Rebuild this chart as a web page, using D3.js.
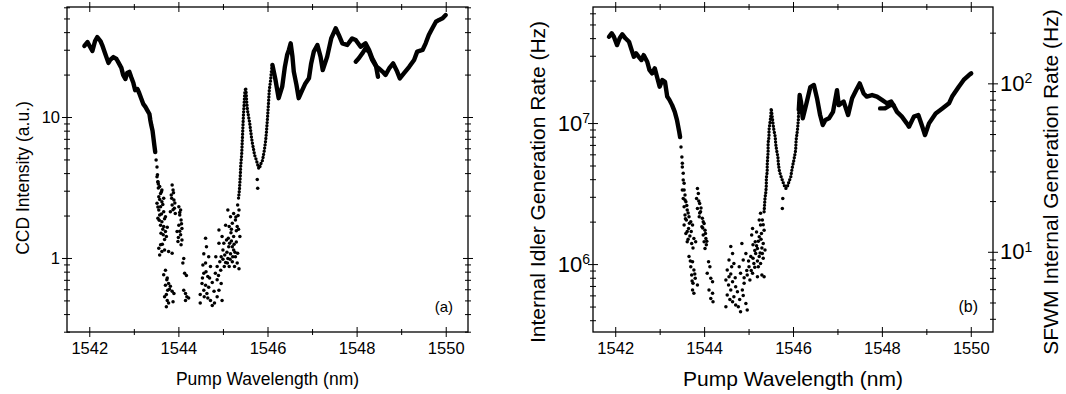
<!DOCTYPE html>
<html>
<head>
<meta charset="utf-8">
<script src="https://cdn.jsdelivr.net/npm/d3@7"></script>
<style>
  body { margin: 0; background: #fff; }
  svg { display: block; }
</style>
</head>
<body>
<svg id="chart" width="1066" height="394"></svg>
<script>
// ---- data: [wavelength (nm), value] ----
const xTicks = [1542, 1544, 1546, 1548, 1550];
const xMinorTicks = [1543, 1545, 1547, 1549];
const aYTicks = [1, 10];
const bYTicks = [1e6, 1e7];
const bY2Ticks = [10, 100];

// (a) CCD intensity
const aLineLeft = [[1541.89,31.9],[1541.96,34.0],[1542.02,31.4],[1542.07,29.4],[1542.13,34.6],[1542.18,36.9],[1542.25,34.6],[1542.29,32.4],[1542.36,28.0],[1542.43,24.2],[1542.47,25.4],[1542.54,26.6],[1542.61,25.8],[1542.65,24.5],[1542.72,22.3],[1542.76,19.9],[1542.81,18.6],[1542.85,20.5],[1542.90,20.9],[1542.94,19.2],[1542.99,17.4],[1543.03,15.5],[1543.08,15.8],[1543.12,14.8],[1543.17,13.4],[1543.21,12.4],[1543.26,11.8],[1543.30,11.2],[1543.35,10.5],[1543.37,9.5],[1543.39,8.8],[1543.42,8.0],[1543.44,7.1],[1543.46,6.3],[1543.48,5.65]];
const aSpike = [[1545.35,2.66],[1545.37,3.04],[1545.39,3.88],[1545.40,4.57],[1545.42,5.38],[1545.43,6.33],[1545.44,7.45],[1545.45,8.78],[1545.46,10.3],[1545.47,11.6],[1545.48,13.2],[1545.49,14.8],[1545.51,16.1],[1545.52,15.0],[1545.53,13.2],[1545.55,11.2],[1545.57,10.3],[1545.60,9.07],[1545.62,8.09],[1545.64,7.21],[1545.66,6.54],[1545.69,5.83],[1545.71,5.38],[1545.75,4.95],[1545.80,4.35],[1545.82,4.3],[1545.84,4.57],[1545.87,4.80],[1545.89,4.95],[1545.91,5.38],[1545.93,5.83],[1545.96,6.87],[1545.98,8.09],[1546.00,9.84],[1546.02,12.2],[1546.04,15.5],[1546.07,18.3],[1546.09,21.5],[1546.11,23.4]];
const aLineRight = [[1546.11,23.4],[1546.18,18.3],[1546.25,13.6],[1546.33,16.4],[1546.39,22.7],[1546.44,27.5],[1546.48,29.9],[1546.52,33.3],[1546.56,26.8],[1546.59,21.0],[1546.65,16.9],[1546.70,13.6],[1546.78,15.5],[1546.85,17.3],[1546.93,18.8],[1546.98,24.0],[1547.04,29.1],[1547.12,32.4],[1547.19,26.8],[1547.24,21.5],[1547.34,26.8],[1547.43,36.1],[1547.53,42.6],[1547.60,38.2],[1547.68,33.3],[1547.79,32.4],[1547.90,36.1],[1547.98,35.2],[1548.09,31.5],[1548.20,33.3],[1548.28,29.9],[1548.35,26.1],[1548.43,23.4],[1548.48,19.3]];
const aLineRight2 = [[1547.98,24.7],[1548.05,26.1],[1548.13,28.3],[1548.20,30.7],[1548.28,29.0],[1548.35,25.4],[1548.43,23.0],[1548.50,22.1],[1548.58,21.0],[1548.65,19.9],[1548.73,22.1],[1548.82,24.0],[1548.91,21.0],[1548.97,18.8],[1549.06,20.4],[1549.18,22.7],[1549.29,25.4],[1549.36,29.1],[1549.48,29.9],[1549.55,33.3],[1549.62,38.2],[1549.70,42.6],[1549.78,47.4],[1549.85,48.8],[1549.93,50.1],[1550.00,52.9]];
const aScatter = [
  [1543.50,4.95],[1543.52,4.42],[1543.53,3.9],[1543.54,3.46],[1543.55,3.13],
  [1543.52,3.77],[1543.54,3.48],[1543.58,3.21],[1543.63,3.04],[1543.60,2.87],[1543.56,2.72],[1543.67,2.65],[1543.63,2.51],[1543.52,2.44],[1543.60,2.31],[1543.56,2.19],[1543.67,2.13],[1543.58,2.02],[1543.71,1.96],[1543.54,1.91],[1543.63,1.81],[1543.60,1.71],[1543.67,1.67],[1543.75,1.65],[1543.71,1.54],[1543.66,1.46],[1543.73,1.42],[1543.60,1.24],[1543.56,1.17],[1543.63,1.11],[1543.58,1.05],[1543.69,1.14],[1543.78,1.11],[1543.86,1.08],[1543.71,0.82],[1543.67,0.76],[1543.75,0.72],[1543.78,0.66],[1543.71,0.64],[1543.82,0.63],[1543.76,0.59],[1543.86,0.58],[1543.73,0.55],[1543.90,0.56],[1543.75,0.50],[1543.78,0.48],[1543.73,0.45],[1543.88,0.49],
  [1543.55,3.35],[1543.62,2.95],[1543.58,2.6],[1543.65,2.4],[1543.54,2.3],[1543.62,2.05],[1543.69,1.9],[1543.57,1.85],[1543.65,1.6],[1543.61,1.5],[1543.69,1.35],[1543.64,1.25],[1543.74,0.70],[1543.80,0.60],[1543.69,0.53],
  [1543.86,3.29],[1543.88,3.04],[1543.84,2.80],[1543.90,2.58],[1543.86,2.38],[1543.91,2.25],[1543.82,2.13],[1543.93,2.07],[1544.01,2.31],[1544.05,2.19],[1544.03,2.02],[1544.06,1.86],[1544.01,1.71],[1544.08,1.62],[1543.97,1.54],[1544.05,1.46],[1544.08,1.34],[1543.99,1.31],[1544.06,1.24],
  [1543.89,2.9],[1543.85,2.65],[1543.92,2.45],[1543.88,2.2],[1544.03,2.1],[1544.07,1.75],[1544.03,1.55],[1544.00,1.4],
  [1544.12,0.99],[1544.10,0.92],[1544.14,0.78],[1544.18,0.75],[1544.12,0.59],[1544.16,0.56],[1544.19,0.53],[1544.23,0.52],[1544.16,0.50],
  [1544.61,1.38],[1544.63,1.20],[1544.57,1.07],[1544.68,1.02],[1544.61,0.92],[1544.72,0.87],[1544.55,0.89],[1544.57,0.78],[1544.66,0.74],[1544.53,0.66],[1544.61,0.64],[1544.57,0.59],[1544.68,0.62],[1544.76,0.67],[1544.49,0.55],[1544.58,0.53],[1544.64,0.56],[1544.72,0.50],[1544.76,0.46],[1544.49,0.48],[1544.81,0.48],[1544.87,0.53],[1544.91,0.59],[1544.98,0.50],[1544.87,0.70],[1544.96,0.66],[1544.83,0.78],[1544.87,0.87],[1544.93,0.94],[1544.96,1.02],[1544.84,1.02],[1545.00,1.14],[1545.03,0.87],[1545.06,0.93],[1545.11,0.99],[1545.02,1.27],[1545.08,1.34],[1545.12,1.38],[1545.15,1.27],[1545.21,1.20],[1545.24,1.14],[1545.17,1.07],[1545.28,1.02],[1545.21,0.94],[1545.26,0.87],[1545.32,0.92],[1545.36,0.84],[1545.14,0.87],[1544.91,1.58],[1545.11,2.19],[1545.17,1.96],[1545.21,1.76],[1545.24,2.07],[1545.28,1.86],[1545.32,1.67],[1545.36,2.19],[1545.33,2.38],[1545.30,1.56],[1545.38,1.42],[1545.24,1.42],[1545.18,1.51],[1545.14,1.67],[1545.06,1.71],[1544.98,1.42],[1544.91,1.27],
  [1545.04,1.05],[1545.09,1.10],[1545.13,1.20],[1545.19,1.32],[1545.25,1.25],[1545.30,1.30],[1545.27,1.10],[1545.22,1.02],[1545.16,0.98],[1545.10,0.92],[1545.00,0.98],[1544.95,0.82],[1544.90,0.75],[1545.33,1.08],[1545.35,1.60],[1545.29,1.95],[1545.34,2.00],[1545.19,1.60],[1544.70,0.72],[1544.62,0.80],[1544.54,0.72],[1544.80,0.58],[1544.66,0.52],
  [1545.77,3.61],[1545.78,3.12]
];

// (b) internal idler generation rate (Hz)
const bLineLeft = [[1541.86,4.09e7],[1541.92,4.33e7],[1541.97,4.09e7],[1542.04,3.57e7],[1542.10,3.99e7],[1542.16,4.26e7],[1542.23,3.99e7],[1542.31,3.77e7],[1542.37,3.29e7],[1542.42,2.95e7],[1542.47,3.12e7],[1542.53,2.95e7],[1542.59,2.80e7],[1542.64,3.03e7],[1542.72,2.72e7],[1542.77,2.38e7],[1542.83,2.25e7],[1542.89,2.44e7],[1542.94,2.13e7],[1543.00,1.81e7],[1543.06,2.02e7],[1543.12,1.96e7],[1543.17,1.54e7],[1543.22,1.46e7],[1543.28,1.34e7],[1543.34,1.20e7],[1543.39,1.05e7],[1543.44,8.67e6],[1543.46,7.96e6]];
const bSpike = [[1545.35,2.35e6],[1545.36,2.62e6],[1545.37,2.94e6],[1545.39,3.26e6],[1545.40,3.63e6],[1545.40,4.07e6],[1545.42,4.52e6],[1545.42,5.04e6],[1545.43,5.65e6],[1545.44,6.26e6],[1545.44,7.22e6],[1545.46,8.00e6],[1545.46,8.91e6],[1545.48,1.0e7],[1545.50,1.11e7],[1545.51,1.27e7],[1545.55,9.95e6],[1545.57,8.91e6],[1545.60,8.00e6],[1545.61,7.18e6],[1545.63,6.44e6],[1545.66,5.77e6],[1545.67,5.18e6],[1545.69,4.64e6],[1545.72,4.28e6],[1545.76,3.94e6],[1545.80,3.63e6],[1545.84,3.44e6],[1545.87,3.53e6],[1545.91,3.84e6],[1545.95,4.16e6],[1545.98,4.77e6],[1546.02,5.47e6],[1546.06,6.44e6],[1546.07,7.57e6],[1546.10,8.91e6],[1546.12,1.05e7],[1546.13,1.24e7]];
const bLineRight = [[1546.13,1.24e7],[1546.15,1.58e7],[1546.18,1.41e7],[1546.22,1.08e7],[1546.31,1.41e7],[1546.39,1.80e7],[1546.47,1.86e7],[1546.54,1.50e7],[1546.61,1.14e7],[1546.67,9.68e6],[1546.73,1.05e7],[1546.81,1.08e7],[1546.90,1.20e7],[1546.99,1.71e7],[1547.03,1.34e7],[1547.14,1.42e7],[1547.24,1.14e7],[1547.33,1.50e7],[1547.42,1.71e7],[1547.50,1.91e7],[1547.59,1.62e7],[1547.66,1.54e7],[1547.78,1.58e7],[1547.89,1.54e7],[1548.00,1.46e7],[1548.11,1.38e7],[1548.21,1.42e7],[1548.26,1.34e7],[1548.34,1.20e7],[1548.45,1.11e7],[1548.56,9.95e6],[1548.61,9.42e6],[1548.72,1.11e7],[1548.82,1.14e7],[1548.91,9.42e6],[1548.97,8.22e6],[1549.06,9.95e6],[1549.21,1.17e7],[1549.36,1.27e7],[1549.51,1.38e7],[1549.58,1.54e7],[1549.73,1.81e7],[1549.84,2.02e7],[1549.96,2.19e7],[1550.01,2.25e7]];
const bLineRight2 = [[1547.96,1.27e7],[1548.07,1.27e7],[1548.19,1.34e7],[1548.26,1.34e7]];
const bScatter = [
  [1543.48,6.76e6],[1543.50,5.74e6],[1543.51,4.88e6],[1543.53,3.94e6],[1543.55,3.35e6],[1543.51,5.18e6],[1543.53,4.40e6],[1543.55,3.74e6],[1543.51,3.35e6],
  [1543.57,3.09e6],[1543.53,2.92e6],[1543.59,2.77e6],[1543.55,2.55e6],[1543.62,2.42e6],[1543.57,2.23e6],[1543.66,2.17e6],[1543.60,2.05e6],[1543.70,2.00e6],[1543.55,1.89e6],[1543.65,1.79e6],[1543.74,1.89e6],[1543.59,1.65e6],[1543.68,1.58e6],[1543.77,1.52e6],[1543.62,1.44e6],[1543.72,1.40e6],[1543.81,1.44e6],[1543.66,1.13e6],[1543.74,1.04e6],[1543.70,9.58e5],[1543.77,9.08e5],[1543.72,8.36e5],[1543.80,7.92e5],[1543.75,7.30e5],[1543.85,7.10e5],[1543.74,6.55e5],[1543.77,6.20e5],
  [1543.57,2.85e6],[1543.61,2.6e6],[1543.64,2.3e6],[1543.58,2.1e6],[1543.67,1.95e6],[1543.62,1.7e6],[1543.71,1.7e6],[1543.64,1.5e6],[1543.75,1.3e6],[1543.69,1.05e6],[1543.79,8.5e5],[1543.73,7.6e5],
  [1543.85,3.44e6],[1543.87,3.17e6],[1543.83,2.92e6],[1543.90,2.69e6],[1543.85,2.48e6],[1543.92,2.35e6],[1543.89,2.17e6],[1543.96,2.11e6],[1544.00,1.94e6],[1543.95,1.84e6],[1544.02,1.74e6],[1543.98,1.61e6],[1544.04,1.52e6],[1544.00,1.44e6],[1544.05,1.37e6],[1544.02,1.29e6],
  [1543.88,2.8e6],[1543.93,2.5e6],[1543.90,2.3e6],[1543.98,2.0e6],[1543.97,1.8e6],[1544.03,1.65e6],[1544.06,1.45e6],
  [1544.10,1.04e6],[1544.13,9.58e5],[1544.07,8.60e5],[1544.15,7.92e5],[1544.19,7.50e5],[1544.11,6.55e5],[1544.19,6.20e5],[1544.15,5.71e5],[1544.20,5.41e5],
  [1544.60,1.33e6],[1544.64,1.19e6],[1544.56,1.07e6],[1544.67,1.01e6],[1544.62,9.58e5],[1544.52,9.08e5],[1544.56,8.13e5],[1544.49,7.71e5],[1544.64,7.50e5],[1544.55,7.10e5],[1544.71,6.91e5],[1544.60,6.55e5],[1544.52,6.03e5],[1544.67,5.87e5],[1544.75,6.37e5],[1544.49,4.99e5],[1544.64,5.41e5],[1544.71,5.12e5],[1544.82,4.59e5],[1544.77,4.99e5],[1544.94,5.26e5],[1544.97,4.72e5],[1544.86,6.55e5],[1544.90,7.30e5],[1544.82,8.60e5],[1544.79,9.58e5],[1544.88,1.07e6],[1544.85,1.40e6],[1544.94,1.19e6],[1545.01,9.58e5],[1545.05,1.13e6],[1544.97,8.36e5],[1545.03,7.71e5],[1545.09,8.60e5],[1545.12,1.01e6],[1545.16,1.19e6],[1545.10,1.37e6],[1545.07,1.61e6],[1545.09,1.79e6],[1545.15,1.44e6],[1545.20,1.29e6],[1545.24,1.13e6],[1545.27,1.01e6],[1545.31,1.19e6],[1545.22,9.58e5],[1545.35,8.13e5],[1545.30,8.36e5],[1545.20,8.13e5],[1545.24,1.56e6],[1545.27,1.89e6],[1545.31,2.05e6],[1545.35,1.74e6],[1545.33,1.40e6],[1545.37,1.26e6],[1545.27,2.29e6],[1545.24,2.05e6],[1545.18,1.69e6],
  [1545.10,1.1e6],[1545.14,1.25e6],[1545.18,1.35e6],[1545.22,1.45e6],[1545.28,1.5e6],[1545.30,1.3e6],[1545.26,1.2e6],[1545.20,1.05e6],[1545.14,9.5e5],[1545.06,9.0e5],[1545.00,1.05e6],[1544.96,9.0e5],[1544.90,8.0e5],[1545.33,1.1e6],[1545.29,1.65e6],[1545.33,1.9e6],[1544.70,8.0e5],[1544.60,8.5e5],[1544.58,5.6e5],[1544.80,5.6e5],[1544.88,6.0e5],
  [1545.77,2.92e6],[1545.76,2.48e6]
];

// ---- drawing ----
const FONT = "Arial, 'Liberation Sans', Helvetica, sans-serif";
const xDomain = [1541.5, 1550.5];
const svg = d3.select("#chart");

function logMinor(domain) {
  const out = [];
  for (let e = Math.floor(Math.log10(domain[0])); e <= Math.ceil(Math.log10(domain[1])); e++) {
    for (let k = 2; k <= 9; k++) {
      const v = k * Math.pow(10, e);
      if (v > domain[0] && v < domain[1]) out.push(v);
    }
  }
  return out;
}

// ticks that cross the frame line (in and out)
function crossTicks(g, make, scale, tr, values, len) {
  [len, -len].forEach(s => {
    g.append("g").attr("transform", tr)
      .call(make(scale).tickValues(values).tickSize(s).tickFormat(""))
      .call(a => a.select(".domain").remove())
      .selectAll("line").attr("stroke", "#000").attr("stroke-width", 1);
  });
}

function labelAxis(g, make, scale, tr, values, pad, size, fmt) {
  return g.append("g").attr("transform", tr)
    .call(make(scale).tickValues(values).tickSize(0).tickPadding(pad).tickFormat(fmt))
    .call(a => a.select(".domain").remove())
    .attr("font-family", FONT).attr("font-size", size);
}

function powerLabels(axisG) {
  axisG.selectAll(".tick text").each(function (d) {
    const t = d3.select(this);
    t.text("");
    t.append("tspan").text("10");
    t.append("tspan").attr("dy", "-0.55em").attr("font-size", 14).text(Math.round(Math.log10(d)));
  });
}

function drawPanel(p) {
  const x = d3.scaleLinear().domain(xDomain).range([p.left, p.right]);
  const y = d3.scaleLog().domain(p.yDomain).range([p.bottom, p.top]);
  const g = svg.append("g");
  const line = d3.line().x(d => x(d[0])).y(d => y(d[1]));

  p.solid.forEach(s => g.append("path").attr("d", line(s))
    .attr("fill", "none").attr("stroke", "#000").attr("stroke-width", 4.4)
    .attr("stroke-linejoin", "round").attr("stroke-linecap", "round"));
  p.dotted.forEach(s => g.append("path").attr("d", line(s))
    .attr("fill", "none").attr("stroke", "#000").attr("stroke-width", 3.4)
    .attr("stroke-linecap", "round").attr("stroke-dasharray", "0 3.2"));
  g.append("g").selectAll("circle").data(p.scatter).join("circle")
    .attr("cx", d => x(d[0])).attr("cy", d => y(d[1])).attr("r", 1.75).attr("fill", "#000");

  // frame
  g.append("rect").attr("x", p.left).attr("y", p.top)
    .attr("width", p.right - p.left).attr("height", p.bottom - p.top)
    .attr("fill", "none").attr("stroke", "#000").attr("stroke-width", 1.3);

  // x ticks, bottom and top
  crossTicks(g, d3.axisBottom, x, `translate(0,${p.bottom})`, xTicks, 5);
  crossTicks(g, d3.axisBottom, x, `translate(0,${p.bottom})`, xMinorTicks, 3);
  crossTicks(g, d3.axisTop, x, `translate(0,${p.top})`, xTicks, 5);
  crossTicks(g, d3.axisTop, x, `translate(0,${p.top})`, xMinorTicks, 3);
  labelAxis(g, d3.axisBottom, x, `translate(0,${p.bottom})`, xTicks, 10, 16.5, d3.format("d"));

  // left y ticks
  const yMinor = logMinor(p.yDomain);
  crossTicks(g, d3.axisLeft, y, `translate(${p.left},0)`, p.yTicks, 5);
  crossTicks(g, d3.axisLeft, y, `translate(${p.left},0)`, yMinor, 3);
  const yl = labelAxis(g, d3.axisLeft, y, `translate(${p.left},0)`, p.yTicks, p.yPad, p.yFont, d => String(d));
  if (p.power) powerLabels(yl);

  // right side: mirrored ticks or an own axis
  if (p.y2Domain) {
    const y2 = d3.scaleLog().domain(p.y2Domain).range([p.bottom, p.top]);
    crossTicks(g, d3.axisRight, y2, `translate(${p.right},0)`, p.y2Ticks, 5);
    crossTicks(g, d3.axisRight, y2, `translate(${p.right},0)`, logMinor(p.y2Domain), 3);
    const yr = labelAxis(g, d3.axisRight, y2, `translate(${p.right},0)`, p.y2Ticks, 7, p.yFont, d => String(d));
    powerLabels(yr);
  } else {
    crossTicks(g, d3.axisRight, y, `translate(${p.right},0)`, p.yTicks, 5);
    crossTicks(g, d3.axisRight, y, `translate(${p.right},0)`, yMinor, 3);
  }

  // titles
  g.append("text").attr("x", (p.left + p.right) / 2).attr("y", p.xTitleY)
    .attr("text-anchor", "middle").attr("font-family", FONT).attr("font-size", p.titleFont)
    .text("Pump Wavelength (nm)");
  g.append("text").attr("transform", `translate(${p.yTitleX},${p.titleMid}) rotate(-90)`)
    .attr("text-anchor", "middle").attr("font-family", FONT).attr("font-size", p.titleFont)
    .text(p.yTitle);
  if (p.y2Title) {
    g.append("text").attr("transform", `translate(${p.y2TitleX},${p.titleMid}) rotate(-90)`)
      .attr("text-anchor", "middle").attr("font-family", FONT).attr("font-size", p.titleFont)
      .text(p.y2Title);
  }
  g.append("text").attr("x", p.right - 15).attr("y", 312)
    .attr("text-anchor", "end").attr("font-family", FONT).attr("font-size", p.tagFont)
    .text(p.tag);
}

drawPanel({
  left: 67, right: 468, top: 7, bottom: 332,
  yDomain: [0.2985, 60.3], yTicks: aYTicks, yPad: 7, yFont: 16.5,
  solid: [aLineLeft, aLineRight, aLineRight2], dotted: [aSpike], scatter: aScatter,
  titleFont: 17.5, xTitleY: 385, titleMid: 178, tagFont: 15,
  yTitle: "CCD Intensity (a.u.)", yTitleX: 29, tag: "(a)"
});

drawPanel({
  left: 593, right: 993, top: 7, bottom: 332,
  yDomain: [3.30e5, 6.65e7], yTicks: bYTicks, yPad: 3, yFont: 22, power: true,
  y2Domain: [3.34, 284], y2Ticks: bY2Ticks,
  solid: [bLineLeft, bLineRight, bLineRight2], dotted: [bSpike], scatter: bScatter,
  titleFont: 21, xTitleY: 386, titleMid: 182, tagFont: 16,
  yTitle: "Internal Idler Generation Rate (Hz)", yTitleX: 545,
  y2Title: "SFWM Internal Generation Rate (Hz)", y2TitleX: 1058, tag: "(b)"
});
</script>
</body>
</html>
